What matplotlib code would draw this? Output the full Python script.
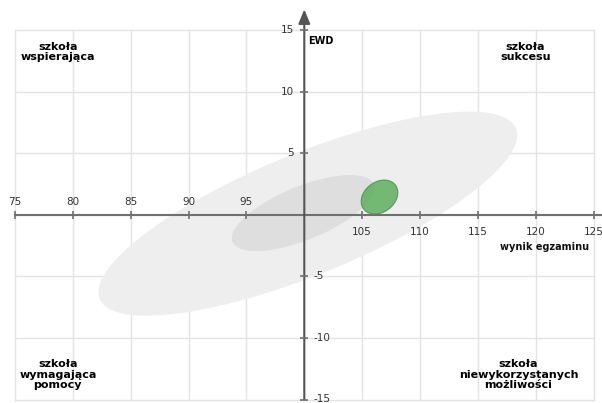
import numpy as np
import matplotlib.pyplot as plt

# axis ticks
x_ticks = [75, 80, 85, 90, 95, 100, 105, 110, 115, 120, 125]
y_ticks = [-15, -10, -5, 0, 5, 10, 15]

# ellipses: centre, spread along x / y and correlation between them
ell_names = ["all schools", "middle 50%", "school"]
ell_cx = [100.3, 99.9, 106.5]
ell_cy = [0.1, 0.15, 1.45]
ell_sx = [18.1, 6.16, 1.58]
ell_sy = [8.29, 3.09, 1.38]
ell_r = [0.77, 0.66, 0.26]

# quadrant labels
quad_labels = ["szkoła\nwspierająca", "szkoła\nsukcesu",
               "szkoła\nwymagająca\npomocy", "szkoła\nniewykorzystanych\nmożliwości"]
quad_x = [78.7, 119.1, 78.7, 118.5]
quad_y = [13.25, 13.25, -13.0, -13.0]


def ellipse_points(cx, cy, sx, sy, r, n=300):
    t = np.linspace(0, 2 * np.pi, n)
    x = cx + sx * np.cos(t)
    y = cy + sy * (r * np.cos(t) + np.sqrt(1 - r ** 2) * np.sin(t))
    return x, y


fig = plt.figure(figsize=(6.02, 4.03), dpi=100)
ax = fig.add_axes([15 / 602, 3.5 / 403, 578.6 / 602, 369.2 / 403])
ax.set_xlim(75, 125)
ax.set_ylim(-15, 15)
ax.axis("off")

# grid
for x in x_ticks:
    ax.axvline(x, color="#e3e3e3", lw=1, zorder=0, clip_on=False)
for y in y_ticks:
    ax.axhline(y, color="#e3e3e3", lw=1, zorder=0, clip_on=False)

# ellipses
faces = ["#eeeeee", "#dedede", "#5daf5d"]
edges = ["none", "none", "#4a904a"]
alphas = [1.0, 1.0, 0.85]
for i in range(len(ell_names)):
    ex, ey = ellipse_points(ell_cx[i], ell_cy[i], ell_sx[i], ell_sy[i], ell_r[i])
    ax.fill(ex, ey, facecolor=faces[i], edgecolor=edges[i], lw=0.8,
            alpha=alphas[i], zorder=1 + i)

# main axes through (100, 0)
axis_col = "#707070"
ax.plot([75, 126], [0, 0], color=axis_col, lw=1.5, zorder=5, clip_on=False)
ax.annotate("", xy=(100, 16.7), xytext=(100, -15),
            arrowprops=dict(arrowstyle="-|>,head_length=0.85,head_width=0.35",
                            color="#555555", lw=1.5, mutation_scale=10,
                            shrinkA=0, shrinkB=0),
            annotation_clip=False, zorder=5)

xt = [x for x in x_ticks if x != 100]
yt = [y for y in y_ticks if y != 0]
ax.plot(xt, [0] * len(xt), ls="none", marker="|", ms=6, mew=1.2,
        color=axis_col, zorder=6, clip_on=False)
ax.plot([100] * len(yt), yt, ls="none", marker="_", ms=6, mew=1.2,
        color=axis_col, zorder=6, clip_on=False)

# tick labels: left/top of the origin above the axis, right/bottom below
for x in xt:
    if x < 100:
        ax.annotate(str(x), (x, 0), xytext=(0, 13), textcoords="offset pixels",
                    ha="center", va="center", fontsize=7.5, color="#333333")
    else:
        ax.annotate(str(x), (x, 0), xytext=(0, -17), textcoords="offset pixels",
                    ha="center", va="center", fontsize=7.5, color="#333333")
for y in yt:
    if y > 0:
        ax.annotate(str(y), (100, y), xytext=(-10, 0), textcoords="offset pixels",
                    ha="right", va="center", fontsize=7.5, color="#333333")
    else:
        ax.annotate(str(y), (100, y), xytext=(9, 0), textcoords="offset pixels",
                    ha="left", va="center", fontsize=7.5, color="#333333")

# axis titles
ax.text(100.3, 14.1, "EWD", fontsize=7, fontweight="bold", ha="left", va="center")
ax.text(124.6, -2.58, "wynik egzaminu", fontsize=7, fontweight="bold",
        ha="right", va="center", color="#111111")

for lab, qx, qy in zip(quad_labels, quad_x, quad_y):
    ax.text(qx, qy, lab, fontsize=8, fontweight="bold", ha="center",
            va="center", linespacing=1.05, zorder=7)

fig.savefig("out.png", dpi=100)
